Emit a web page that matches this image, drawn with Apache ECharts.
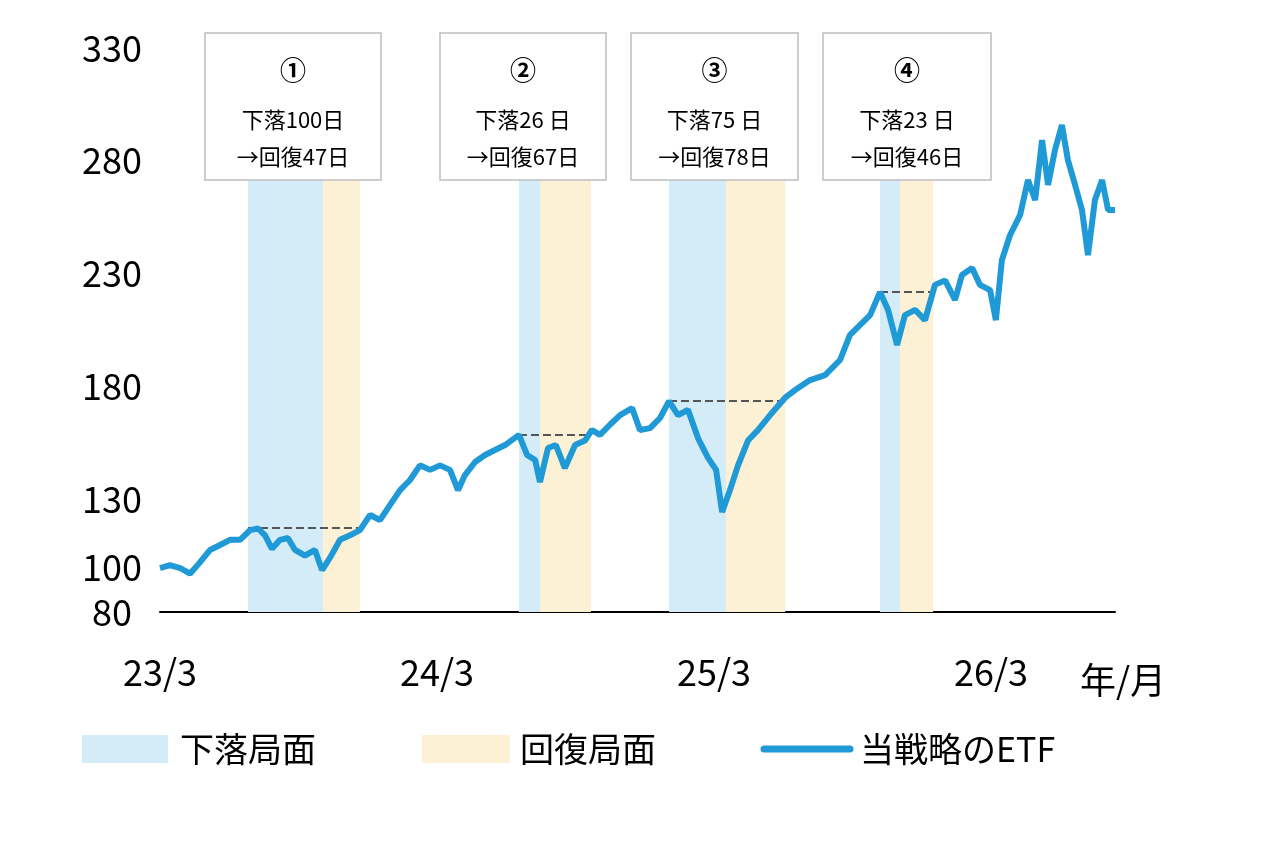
<!DOCTYPE html>
<html>
<head>
<meta charset="utf-8">
<title>当戦略のETF</title>
<style>html,body{margin:0;padding:0;background:#fff}#chart{width:1263px;height:841px}</style>
</head>
<body>
<div id="chart"></div>
<script src="https://cdn.jsdelivr.net/npm/echarts@6/dist/echarts.min.js"></script>
<script>
// x: months since 23/3
var months = [0,0.43,0.87,1.30,1.73,2.17,2.60,3.03,3.47,3.90,4.25,4.55,4.85,5.20,5.54,5.85,6.28,6.71,7.02,7.36,7.80,8.23,8.66,9.10,9.53,9.96,10.40,10.83,11.26,11.70,12.13,12.56,12.91,13.21,13.65,14.08,14.51,14.95,15.55,15.90,16.25,16.46,16.81,17.15,17.54,17.98,18.41,18.71,19.06,19.49,19.93,20.45,20.79,21.23,21.66,22.05,22.44,22.87,23.31,23.74,24.09,24.35,24.69,25.04,25.47,25.91,26.43,27.08,27.51,28.16,28.81,29.46,29.89,30.32,30.76,31.19,31.54,31.93,32.27,32.71,33.14,33.57,34.01,34.44,34.74,35.18,35.52,35.96,36.21,36.47,36.82,37.26,37.60,37.91,38.21,38.47,38.77,39.07,39.33,39.64,39.94,40.20,40.50,40.81,41.07,41.37];
var etf = [99.5,100.8,99.5,97,102,107.5,109.7,112,112,116.3,117,114,108,112,112.8,107.5,105,107.5,98.6,104,112,114,116.3,123,120.7,127.4,134,138.5,145,143,145,143,134,140.7,146.5,149.6,151.8,154,158.5,149.6,147.4,137.6,152.7,154,143.8,154,156,160.7,158.5,163,167.3,170.4,160.7,161.5,166,173.5,167.3,169.6,157,148.3,143,124.3,134,145,156,160.7,167.3,175,178.4,182.8,185,191.7,202.8,207.2,211.6,221.8,213.9,198.4,211.6,213.9,209.4,225,227,218.3,229.4,232.5,225,222.7,209.4,236,247,256,271.5,262.6,289.2,269.3,284.8,295.9,280.3,269.3,258.2,238.2,262.6,271.5,258.2,258.2];
// phases: [drawdown start, recovery start, recovery end, previous peak]
var phases = [[3.81,7.06,8.66,117.2],[15.55,16.46,18.67,158.5],[22.05,24.52,27.08,173.5],[31.19,32.06,33.49,221.8]];
var phaseLabels = ['①','②','③','④'];
var phaseText1 = ['下落100日','下落26 日','下落75 日','下落23 日'];
var phaseText2 = ['→回復47日','→回復67日','→回復78日','→回復46日'];
var yTicks = [80,100,130,180,230,280,330];
var xTicks = {0:'23/3',12:'24/3',24:'25/3',36:'26/3'};

var FONT = '"Noto Sans CJK JP", sans-serif';
var BLUE = '#d3ecf8', YELLOW = '#fdf1d5', LINE = '#1f9ad6';

var fallArea = [], riseArea = [], peakLines = [];
phases.forEach(function (p) {
    fallArea.push([{ xAxis: p[0], yAxis: 80 }, { xAxis: p[1], yAxis: 330 }]);
    riseArea.push([{ xAxis: p[1], yAxis: 80 }, { xAxis: p[2], yAxis: 330 }]);
    peakLines.push([{ coord: [p[0], p[3]] }, { coord: [p[2], p[3]] }]);
});

var boxes = [[205,176],[440,166],[631,167],[823,168]];
var graphics = [];
boxes.forEach(function (b, i) {
    graphics.push({ type: 'rect', shape: { x: b[0], y: 33, width: b[1], height: 147 },
        style: { fill: '#fff', stroke: '#bfbfbf', lineWidth: 1.5 }, z: 100 });
    var cx = b[0] + b[1] / 2;
    [[phaseLabels[i], 70, 'bold 26px '], [phaseText1[i], 120, '22px '], [phaseText2[i], 157, '22px ']].forEach(function (t) {
        graphics.push({ type: 'text', x: cx, y: t[1], z: 101,
            style: { text: t[0], font: t[2] + FONT, fill: '#000', align: 'center', verticalAlign: 'middle' } });
    });
});
graphics.push({ type: 'text', x: 1080, y: 680, style: { text: '年/月', font: '36px ' + FONT, fill: '#000', verticalAlign: 'middle' } });
graphics.push({ type: 'rect', shape: { x: 82, y: 735, width: 86, height: 28 }, style: { fill: BLUE } });
graphics.push({ type: 'text', x: 180, y: 749, style: { text: '下落局面', font: '34px ' + FONT, fill: '#000', verticalAlign: 'middle' } });
graphics.push({ type: 'rect', shape: { x: 422, y: 735, width: 88, height: 28 }, style: { fill: YELLOW } });
graphics.push({ type: 'text', x: 520, y: 749, style: { text: '回復局面', font: '34px ' + FONT, fill: '#000', verticalAlign: 'middle' } });
graphics.push({ type: 'line', shape: { x1: 764, y1: 749, x2: 850, y2: 749 }, style: { stroke: LINE, lineWidth: 7, lineCap: 'round' } });
graphics.push({ type: 'text', x: 860, y: 749, style: { text: '当戦略のETF', font: '34px ' + FONT, fill: '#000', verticalAlign: 'middle' } });

var chart = echarts.init(document.getElementById('chart'));
chart.setOption({
    animation: false,
    grid: { left: 160, right: 148, top: 48, bottom: 229 },
    xAxis: {
        type: 'value', min: 0, max: 41.37, interval: 12,
        axisLine: { lineStyle: { color: '#000', width: 2 } },
        axisTick: { show: false }, splitLine: { show: false },
        axisLabel: { fontSize: 36, fontFamily: FONT, color: '#000', margin: 42,
            formatter: function (v) { return xTicks[v] || ''; } }
    },
    yAxis: {
        type: 'value', min: 80, max: 330, interval: 10,
        axisLine: { show: false }, axisTick: { show: false }, splitLine: { show: false },
        axisLabel: { fontSize: 36, fontFamily: FONT, color: '#000', margin: 48, align: 'center',
            formatter: function (v) { return yTicks.indexOf(v) >= 0 ? String(v) : ''; } }
    },
    series: [{
        type: 'line', data: months.map(function (m, i) { return [m, etf[i]]; }),
        showSymbol: false, z: 5,
        lineStyle: { color: LINE, width: 6 }, itemStyle: { color: LINE },
        markArea: { silent: true, itemStyle: { color: BLUE }, data: fallArea },
        markLine: { silent: true, symbol: 'none', label: { show: false },
            lineStyle: { color: '#555', type: 'dashed', width: 2 }, data: peakLines }
    }, {
        type: 'line', data: [],
        markArea: { silent: true, itemStyle: { color: YELLOW }, data: riseArea }
    }],
    graphic: graphics
});
</script>
</body>
</html>
